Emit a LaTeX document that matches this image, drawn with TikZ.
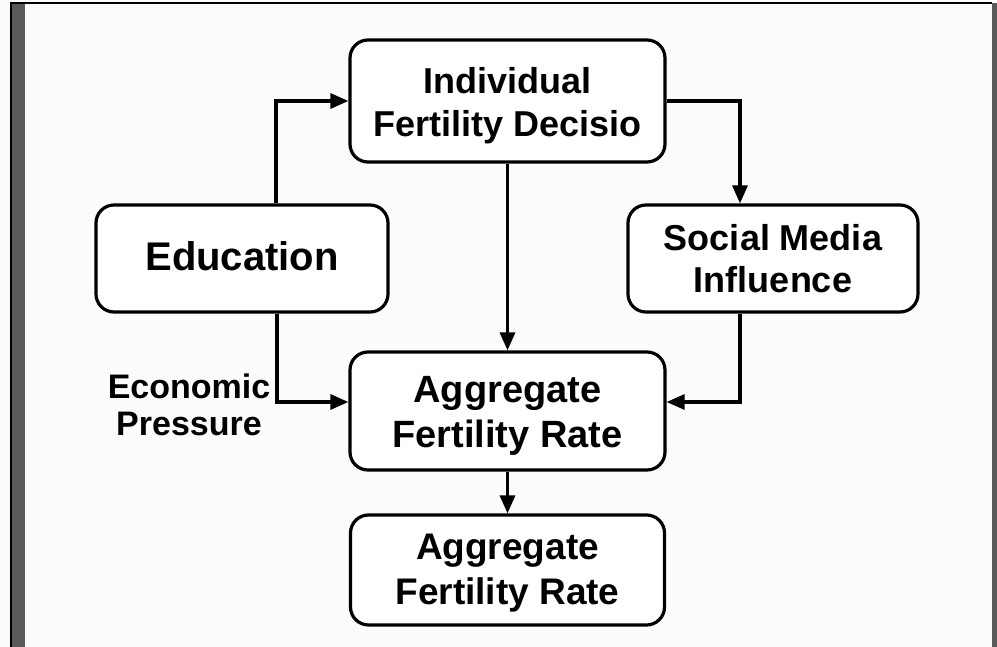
\documentclass[tikz,border=0pt]{standalone}
\usepackage{fontspec}
\setmainfont{Liberation Sans}
\usetikzlibrary{arrows.meta,calc}
\definecolor{bg}{RGB}{251,251,251}
\definecolor{barg}{RGB}{90,90,90}
\tikzset{
  box/.style={draw=black, line width=3.2pt, rounded corners=18pt, fill=white,
    align=center, inner sep=0pt, font=\bfseries},
  arr/.style={line width=3.2pt, -{Triangle[length=18pt,width=15pt]}},
  lbl/.style={align=center, inner sep=0pt, font=\bfseries\fontsize{34}{37}\selectfont}
}
\begin{document}
\begin{tikzpicture}[x=1pt,y=-1pt]
\useasboundingbox (0,0) rectangle (997,647);
\fill[bg] (0,0) rectangle (997,647);
% frame
\fill[black] (10,2.5) rectangle (992,4.5);
\fill[black] (10,2.5) rectangle (12,647);
\fill[barg] (12,4.5) rectangle (25,647);
\fill[barg] (992,3) rectangle (997,647);

\node[box, minimum width=315, minimum height=122, font=\bfseries\fontsize{36}{43}\selectfont] (ind) at (507.5,101) {\rule{0pt}{35pt}Individual\\Fertility Decisio};
\node[box, minimum width=292, minimum height=107, font=\bfseries\fontsize{40}{46}\selectfont] (edu) at (242,258.5) {\rule[-5pt]{0pt}{5pt}Education};
\node[box, minimum width=290, minimum height=107, font=\bfseries\fontsize{36}{42}\selectfont] (soc) at (773,258.5) {Social Media\\Influence};
\node[box, minimum width=315, minimum height=118, font=\bfseries\fontsize{38}{45}\selectfont] (agg) at (507.5,411) {\rule{0pt}{35pt}Aggregate\\Fertility Rate};
\node[box, minimum width=314, minimum height=110, font=\bfseries\fontsize{37}{45}\selectfont] (agg2) at (507.5,570) {\rule{0pt}{32.5pt}Aggregate\\Fertility Rate};
\node[lbl] (econ) at (189,405) {Economic\\Pressure};

\draw[arr] ([xshift=34pt]edu.north) |- (ind.west);
\draw[arr] (ind.east) -| ([xshift=-33pt]soc.north);
\draw[arr] (ind.south) -- (agg.north);
\draw[arr] ([xshift=35pt]edu.south) |- ([yshift=9pt]agg.west);
\draw[arr] ([xshift=-33pt]soc.south) |- ([yshift=9pt]agg.east);
\draw[arr] (agg.south) -- (agg2.north);
\end{tikzpicture}
\end{document}
